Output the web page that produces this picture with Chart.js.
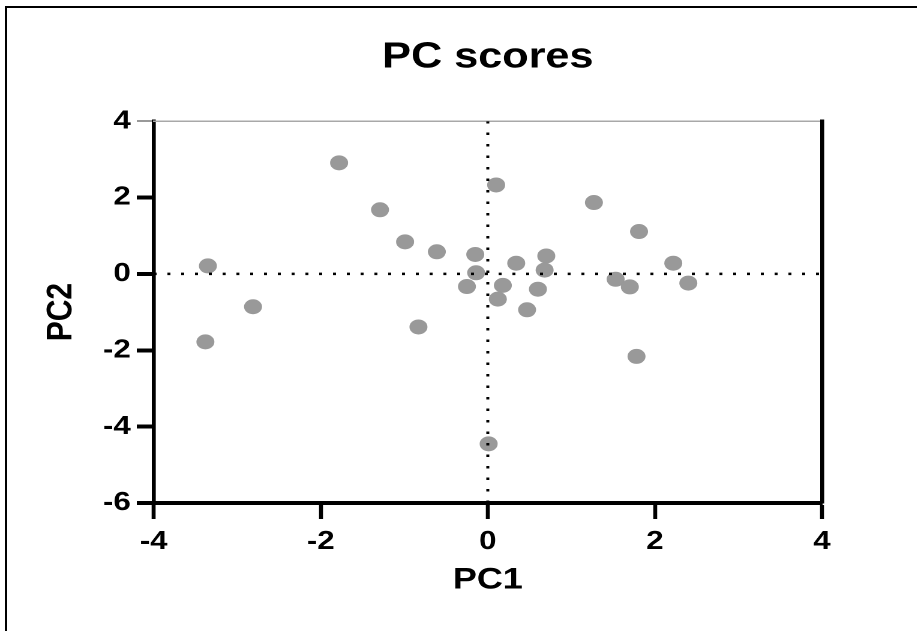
<!DOCTYPE html>
<html lang="en">
<head>
    <meta charset="UTF-8">
    <title>PC scores</title>
    <style>
        html, body { margin: 0; padding: 0; background: #fff; }
        #wrap { position: relative; width: 917px; height: 631px; overflow: hidden; }
        /* the picture is stretched sideways, so the chart is too */
        #pc-chart { position: absolute; left: 0; top: 0; transform: scaleX(1.2); transform-origin: 0 0; }
        #frame {
            position: absolute; left: 5px; top: 6px; right: -10px; bottom: -10px;
            border-top: 2px solid #000; border-left: 2px solid #000;
            pointer-events: none;
        }
    </style>
</head>
<body>
    <div id="wrap">
        <canvas id="pc-chart" width="764" height="631"></canvas>
        <div id="frame"></div>
    </div>

    <script src="https://cdn.jsdelivr.net/npm/chart.js"></script>

    <script>
        // PC scores
        const pc1 = [-3.35, -3.38, -2.81, -1.78, -1.29, -0.99, -0.61, -0.83, -0.15, -0.14,
                     -0.25, 0.10, 0.18, 0.12, 0.34, 0.47, 0.60, 0.70, 0.68, 0.01,
                     1.27, 1.81, 1.53, 1.70, 1.78, 2.22, 2.40];
        const pc2 = [0.21, -1.78, -0.86, 2.91, 1.68, 0.84, 0.58, -1.39, 0.51, 0.03,
                     -0.33, 2.33, -0.30, -0.66, 0.28, -0.94, -0.40, 0.47, 0.10, -4.45,
                     1.87, 1.11, -0.14, -0.34, -2.16, 0.28, -0.24];

        const xTicks = [-4, -2, 0, 2, 4];
        const yTicks = [-6, -4, -2, 0, 2, 4];

        const scores = pc1.map((v, i) => ({ x: v, y: pc2[i] }));
        const xMin = xTicks[0], xMax = xTicks[xTicks.length - 1];
        const yMin = yTicks[0], yMax = yTicks[yTicks.length - 1];
        const zeroH = [{ x: xMin, y: 0 }, { x: xMax, y: 0 }];
        const zeroV = [{ x: 0, y: yMin }, { x: 0, y: yMax }];

        const FONT = "'Liberation Sans', Arial, Helvetica, sans-serif";

        const dotted = {
            showLine: true,
            borderColor: '#000',
            borderWidth: 2.5,
            borderDash: [2.5, 9],
            borderCapStyle: 'butt',
            pointRadius: 0,
            order: 0
        };

        const ctx = document.getElementById('pc-chart').getContext('2d');
        const chart = new Chart(ctx, {
            type: 'scatter',
            data: {
                datasets: [
                    Object.assign({ data: zeroH }, dotted),
                    Object.assign({ data: zeroV }, dotted),
                    {
                        data: scores,
                        backgroundColor: '#999999',
                        borderWidth: 0,
                        pointRadius: 7.5,
                        pointHoverRadius: 7.5,
                        order: 1
                    }
                ]
            },
            options: {
                responsive: false,
                animation: false,
                devicePixelRatio: 2,
                layout: { padding: { left: 0, right: 79, top: 0, bottom: 0 } },
                plugins: {
                    legend: { display: false },
                    tooltip: { enabled: false },
                    title: {
                        display: true,
                        text: 'PC scores',
                        fullSize: false,
                        color: '#000',
                        font: { family: FONT, size: 36, weight: 'bold' },
                        padding: { top: 36, bottom: 42 }
                    }
                },
                scales: {
                    x: {
                        type: 'linear',
                        position: 'bottom',
                        min: xMin,
                        max: xMax,
                        afterBuildTicks: (axis) => { axis.ticks = xTicks.map(v => ({ value: v })); },
                        afterFit: (axis) => { axis.height = 128; },
                        ticks: {
                            color: '#000',
                            padding: 7,
                            maxRotation: 0,
                            font: { family: FONT, size: 26, weight: 'bold' }
                        },
                        grid: {
                            drawOnChartArea: false,
                            drawTicks: true,
                            tickLength: 16,
                            tickColor: '#000',
                            tickWidth: 3.3
                        },
                        border: { display: true, color: '#000', width: 4 },
                        title: {
                            display: true,
                            text: 'PC1',
                            color: '#000',
                            font: { family: FONT, size: 30, weight: 'bold' },
                            padding: { top: 0, bottom: 33 }
                        }
                    },
                    y: {
                        type: 'linear',
                        position: 'left',
                        min: yMin,
                        max: yMax,
                        afterBuildTicks: (axis) => { axis.ticks = yTicks.map(v => ({ value: v })); },
                        afterFit: (axis) => { axis.width = 128; },
                        ticks: {
                            color: '#000',
                            padding: 5,
                            font: { family: FONT, size: 26, weight: 'bold' }
                        },
                        grid: {
                            drawOnChartArea: false,
                            drawTicks: true,
                            tickLength: 14,
                            tickColor: (c) => (c.tick && c.tick.value === yMax ? '#777' : '#000'),
                            tickWidth: (c) => (c.tick && c.tick.value === yMax ? 1.5 : 4)
                        },
                        border: { display: true, color: '#000', width: 3.3 },
                        title: {
                            display: true,
                            text: 'PC2',
                            color: '#000',
                            font: { family: FONT, size: 30, weight: 'bold' },
                            padding: { top: 33, bottom: 0 }
                        }
                    },
                    xTop: {
                        type: 'linear',
                        position: 'top',
                        afterFit: (axis) => { axis.height = 0; },
                        ticks: { display: false },
                        grid: { display: false, drawTicks: false },
                        border: { display: true, color: '#a8a8a8', width: 1.5 }
                    },
                    yRight: {
                        type: 'linear',
                        position: 'right',
                        afterFit: (axis) => { axis.width = 0; },
                        ticks: { display: false },
                        grid: { display: false, drawTicks: false },
                        border: { display: true, color: '#000', width: 3.3 }
                    }
                }
            }
        });
    </script>
</body>
</html>
